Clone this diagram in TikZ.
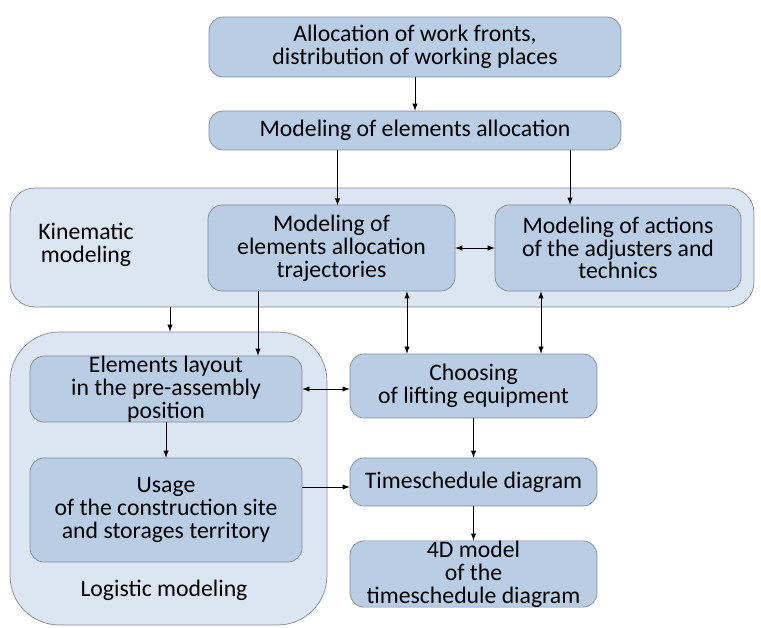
\documentclass[tikz,border=0pt]{standalone}
\usepackage{fontspec}
\setmainfont{Carlito}
\definecolor{boxfill}{HTML}{B9CDE5}
\definecolor{grpfill}{HTML}{DCE6F2}
\definecolor{edge}{HTML}{7F8A96}
\tikzset{
	blk/.style={draw=edge,fill=boxfill,rounded corners=8pt,align=center,inner xsep=2pt,inner ysep=0pt,font=\fontsize{13.5}{13}\selectfont},
	grp/.style={draw=edge,fill=grpfill,rounded corners=14pt},
	lbl/.style={align=center,font=\fontsize{13.5}{13}\selectfont}
}
\begin{document}
\begin{tikzpicture}[x=0.02cm,y=-0.02cm,>=latex]
				\useasboundingbox (0,0) rectangle (761,628);
				% groups
				\node[grp,minimum width=14.88cm,minimum height=2.38cm] (kin) at (382,247.5) {};
				\node[grp,rounded corners=28pt,minimum width=6.34cm,minimum height=5.86cm] (log) at (168.5,478.5) {};
				\node[lbl] (kinlbl) at (86,245) {Kinematic\\modeling};
				\node[lbl] (loglbl) at (164,590) {Logistic modeling};
				% blocks
				\node[blk,minimum width=8.24cm,minimum height=1.2cm] (alloc) at (415,47) {Allocation of work fronts,\\distribution of working places};
				\node[blk,minimum width=8.24cm,minimum height=0.78cm] (elalloc) at (415,130.5) {Modeling of elements allocation};
				\node[blk,minimum width=4.94cm,minimum height=1.72cm] (traj) at (331.5,248) {Modeling of\\elements allocation\\trajectories};
				\node[blk,minimum width=4.92cm,minimum height=1.72cm] (act) at (618,248) {Modeling of actions\\of the adjusters and\\technics};
				\node[blk,minimum width=5.44cm,minimum height=1.28cm] (layout) at (166,389) {Elements layout\\in the pre-assembly\\position};
				\node[blk,minimum width=5.44cm,minimum height=2.08cm] (usage) at (166,510) {Usage\\of the construction site\\and storages territory};
				\node[blk,minimum width=4.94cm,minimum height=1.28cm] (lift) at (473.5,386) {Choosing\\of lifting equipment};
				\node[blk,minimum width=4.94cm,minimum height=0.96cm] (sched) at (473.5,482) {Timeschedule diagram};
				\node[blk,minimum width=4.94cm,minimum height=1.24cm] (model) at (473.5,574) {4D model\\of the\\timeschedule diagram};
				% links
				\draw[->] (alloc) -- (elalloc);
				\draw[->] (elalloc.south -| traj.north) ++(6,0) -- ++(0,55);
				\draw[->] (elalloc.south -| 570,0) -- (act.north -| 570,0);
				\draw[<->] (traj) -- (act);
				\draw[->] (kin.south -| 170,0) -- (log.north -| 170,0);
				\draw[->] (traj.south -| 258,0) -- (layout.north -| 258,0);
				\draw[<->] (traj.south -| 407,0) -- (lift.north -| 407,0);
				\draw[<->] (act.south -| 541,0) -- (lift.north -| 541,0);
				\draw[<->] (layout) -- (lift.west |- layout);
				\draw[->] (layout) -- (usage);
				\draw[->] (usage.east |- 0,487) -- (sched.west |- 0,487);
				\draw[->] (lift) -- (sched);
				\draw[->] (sched) -- (model);
			\end{tikzpicture}
\end{document}
